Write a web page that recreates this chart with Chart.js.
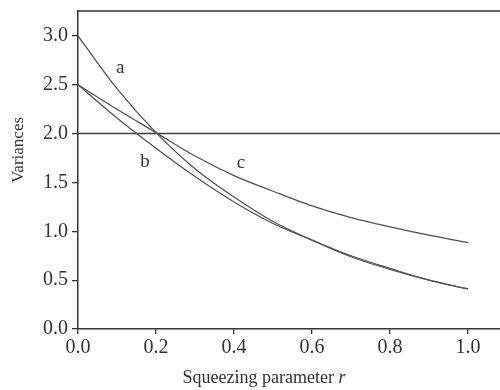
<!DOCTYPE html>
<html>
<head>
<meta charset="utf-8">
<script src="https://cdn.jsdelivr.net/npm/chart.js@4.4.1/dist/chart.umd.min.js"></script>
<style>
  html, body { margin: 0; padding: 0; background: #fff; }
  canvas { display: block; }
</style>
</head>
<body>
<canvas id="chart" width="500" height="390"></canvas>
<script>
// squeezing parameter r
const rValues = [0.0, 0.1, 0.2, 0.3, 0.4, 0.5, 0.6, 0.7, 0.8, 0.9, 1.0];
// variances
const curveA = [3.00, 2.46, 2.01, 1.64, 1.35, 1.10, 0.91, 0.74, 0.61, 0.50, 0.41];
const curveB = [2.50, 2.16, 1.85, 1.56, 1.30, 1.08, 0.91, 0.75, 0.62, 0.50, 0.41];
const curveC = [2.50, 2.25, 2.01, 1.77, 1.57, 1.41, 1.26, 1.14, 1.045, 0.96, 0.885];
const refLevel = 2.0;

// curve names and where they sit (data coordinates)
const curveNames = ['a', 'b', 'c'];
const nameR = [0.108, 0.172, 0.418];
const nameV = [2.67, 1.71, 1.70];

const xMax = 1.082;
const yMax = 3.255;
const FONT = 'Liberation Serif';
const INK = '#333';

function toPoints(ys) {
    return rValues.map((r, i) => ({ x: r, y: ys[i] }));
}

const curveStyle = {
    borderColor: '#505050',
    borderWidth: 1.2,
    pointRadius: 0,
    fill: false,
    tension: 0.35
};

// top frame line, axis titles and curve letters
const decorations = {
    id: 'decorations',
    afterDraw(chart) {
        const ctx = chart.ctx;
        const area = chart.chartArea;
        const xs = chart.scales.x;
        const ys = chart.scales.y;
        ctx.save();

        ctx.strokeStyle = INK;
        ctx.lineWidth = 1.5;
        ctx.beginPath();
        ctx.moveTo(area.left, area.top);
        ctx.lineTo(area.right, area.top);
        ctx.stroke();

        ctx.fillStyle = INK;
        ctx.textAlign = 'center';
        ctx.textBaseline = 'middle';
        ctx.font = '19px "' + FONT + '"';
        curveNames.forEach((name, i) => {
            ctx.fillText(name, xs.getPixelForValue(nameR[i]), ys.getPixelForValue(nameV[i]));
        });

        // x title with italic r
        const main = 'Squeezing parameter ';
        ctx.font = '18px "' + FONT + '"';
        const w1 = ctx.measureText(main).width;
        ctx.font = 'italic 18px "' + FONT + '"';
        const w2 = ctx.measureText('r').width;
        const start = 264 - (w1 + w2) / 2;
        ctx.textAlign = 'left';
        ctx.textBaseline = 'alphabetic';
        ctx.font = '18px "' + FONT + '"';
        ctx.fillText(main, start, 383);
        ctx.font = 'italic 18px "' + FONT + '"';
        ctx.fillText('r', start + w1, 383);

        // y title
        ctx.translate(19, 150);
        ctx.rotate(-Math.PI / 2);
        ctx.textAlign = 'center';
        ctx.textBaseline = 'middle';
        ctx.font = '17px "' + FONT + '"';
        ctx.fillText('Variances', 0, 0);

        ctx.restore();
    }
};

new Chart(document.getElementById('chart'), {
    type: 'line',
    data: {
        datasets: [
            Object.assign({ label: 'a', data: toPoints(curveA) }, curveStyle),
            Object.assign({ label: 'b', data: toPoints(curveB) }, curveStyle),
            Object.assign({ label: 'c', data: toPoints(curveC) }, curveStyle),
            {
                label: 'level',
                data: [{ x: 0, y: refLevel }, { x: xMax, y: refLevel }],
                borderColor: '#404040',
                borderWidth: 1.5,
                pointRadius: 0,
                fill: false
            }
        ]
    },
    options: {
        responsive: false,
        animation: false,
        devicePixelRatio: 1,
        layout: { padding: { top: 11, right: 0, left: 0, bottom: 0 } },
        plugins: {
            legend: { display: false },
            tooltip: { enabled: false }
        },
        scales: {
            x: {
                type: 'linear',
                min: 0,
                max: xMax,
                ticks: {
                    stepSize: 0.2,
                    includeBounds: false,
                    maxRotation: 0,
                    autoSkip: false,
                    padding: 2,
                    color: INK,
                    font: { family: FONT, size: 20 },
                    callback: v => v.toFixed(1)
                },
                grid: {
                    drawOnChartArea: false,
                    drawTicks: true,
                    tickLength: 5,
                    color: INK,
                    lineWidth: 1.3
                },
                border: { color: INK, width: 1.5 },
                afterFit: s => {
                    s.height = 61;
                    s.paddingLeft = 0;
                    s.paddingRight = 0;
                }
            },
            y: {
                min: 0,
                max: yMax,
                ticks: {
                    stepSize: 0.5,
                    includeBounds: false,
                    padding: 4,
                    color: INK,
                    font: { family: FONT, size: 20 },
                    callback: v => v.toFixed(1)
                },
                grid: {
                    drawOnChartArea: false,
                    drawTicks: true,
                    tickLength: 6,
                    color: INK,
                    lineWidth: 1.3
                },
                border: { color: INK, width: 1.5 },
                afterFit: s => {
                    s.width = 78;
                    s.paddingTop = 0;
                    s.paddingBottom = 0;
                }
            }
        }
    },
    plugins: [decorations]
});
</script>
</body>
</html>
